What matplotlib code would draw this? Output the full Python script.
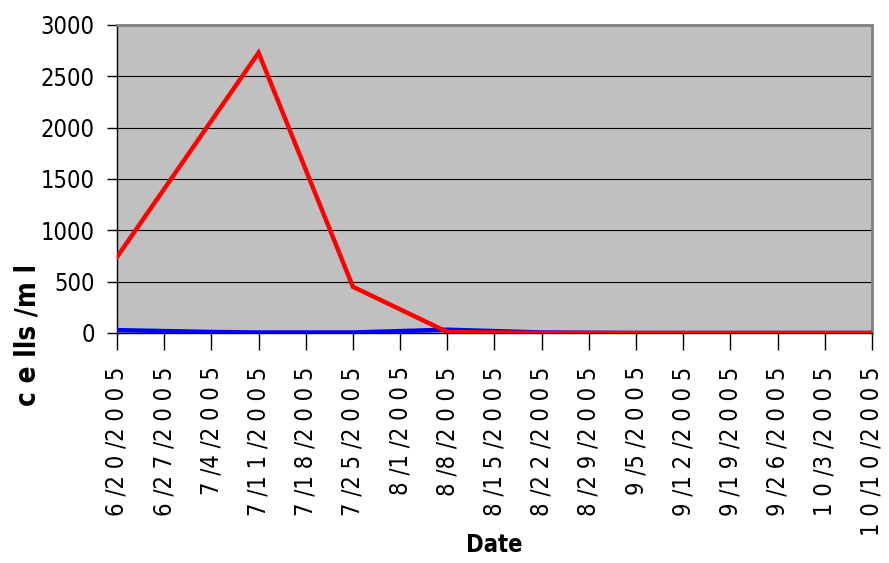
import matplotlib
matplotlib.use("Agg")
import matplotlib.pyplot as plt
from matplotlib import font_manager

# Data
dates = ["6/20/2005", "6/27/2005", "7/4/2005", "7/11/2005", "7/18/2005",
         "7/25/2005", "8/1/2005", "8/8/2005", "8/15/2005", "8/22/2005",
         "8/29/2005", "9/5/2005", "9/12/2005", "9/19/2005", "9/26/2005",
         "10/3/2005", "10/10/2005"]

# sampled weeks (index into dates) and values, cells/ml
red_idx = [0, 3, 5, 7, 9, 11, 13, 15, 16]
red_vals = [740, 2730, 450, 10, 0, 0, 0, 0, 0]

blue_idx = [0, 2, 3, 5, 7, 9, 11, 13, 15, 16]
blue_vals = [28, 10, 5, 5, 32, 5, 0, 0, 0, 0]

yticks = [0, 500, 1000, 1500, 2000, 2500, 3000]

# condensed face for the narrow labels
cond = font_manager.FontProperties(family="DejaVu Sans", stretch="condensed")
cond_bold = font_manager.FontProperties(family="DejaVu Sans", stretch="condensed",
                                        weight="bold")

fig = plt.figure(figsize=(8.89, 5.63), dpi=100)
ax = fig.add_axes([117 / 889, 1 - 333 / 563, 755 / 889, 308 / 563])
ax.set_facecolor("#C0C0C0")

ax.plot(blue_idx, blue_vals, color="#0000FF", lw=3.2, solid_joinstyle="round", zorder=3)
ax.plot(red_idx, red_vals, color="#FF0000", lw=3.2, solid_joinstyle="miter", zorder=4)

ax.set_xlim(0, 16)
ax.set_ylim(0, 3000)
ax.set_yticks(yticks)
ax.set_yticklabels([str(v) for v in yticks])
for lab in ax.get_yticklabels():
    lab.set_fontproperties(cond)
    lab.set_fontsize(17)
ax.yaxis.grid(True, color="black", lw=0.8)
ax.set_axisbelow(True)

ax.set_xticks(range(len(dates)))
spaced = [" ".join(d).replace(" / ", " /").replace("/ ", "/") for d in dates]
ax.set_xticklabels(spaced, rotation=90)
for lab in ax.get_xticklabels():
    lab.set_fontproperties(cond)
    lab.set_fontsize(17)

ax.tick_params(axis="y", length=7, direction="out", width=1, pad=9)
ax.tick_params(axis="x", length=12, direction="out", width=1, pad=12)

for side in ["left", "bottom"]:
    ax.spines[side].set_color("black")
    ax.spines[side].set_linewidth(1)
for side in ["top", "right"]:
    ax.spines[side].set_color("#808080")
    ax.spines[side].set_linewidth(2)

fig.text(494 / 889, 1 - 545 / 563, "Date", ha="center", va="center",
         fontproperties=cond_bold, fontsize=17)
fig.text(27 / 889, 1 - 335 / 563, "c e lls /m l", ha="center", va="center",
         rotation=90, fontproperties=cond_bold, fontsize=20)

# title is cut off at the top edge; only a descender shows
fig.text(232 / 889, 1 + 12 / 563, "p", ha="center", va="baseline",
         fontweight="bold", fontsize=22)

fig.savefig("out.png", dpi=100)
